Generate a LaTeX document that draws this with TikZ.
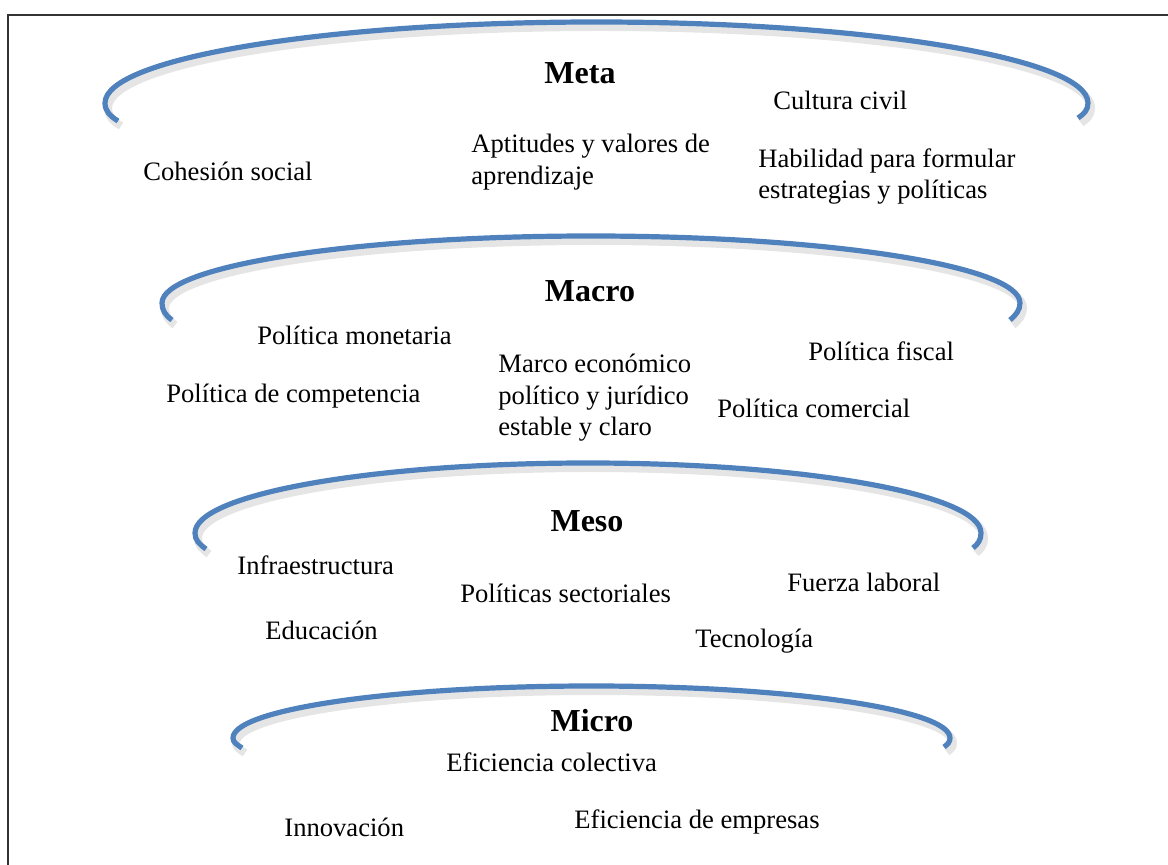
\documentclass[tikz,border=0pt]{standalone}
\usepackage{fontspec}
\setmainfont{Liberation Serif}
\definecolor{arcblue}{HTML}{4F81BD}

\begin{document}
\begin{tikzpicture}[x=0.5pt, y=-0.5pt,
    levelarc/.style={draw=arcblue, line width=2.6pt},
    arcshadow/.style={draw=black, opacity=.10, line width=4pt},
    leveltitle/.style={anchor=base, inner sep=0pt, font=\fontsize{16}{19}\selectfont\bfseries},
    factor/.style={anchor=base west, inner sep=0pt, font=\fontsize{13.3}{15.6}\selectfont},
    factorlines/.style={anchor=north west, inner sep=0pt, align=left, font=\fontsize{13.3}{15.6}\selectfont}]
    \useasboundingbox (0,0) rectangle (1168,865);
    \clip (0,0) rectangle (1168,865);
    % frame
    \draw[black!80, line width=0.8pt] (8,880) |- (1180,15);

    % meta
    \draw[arcshadow, shift={(3,5)}] (118,121) .. controls (110,116) and (105,111) .. (105,103)
        arc[start angle=180, end angle=360, x radius=491.5, y radius=81]
        .. controls (1088,110) and (1084,114) .. (1078,118);
    \draw[levelarc] (118,121) .. controls (110,116) and (105,111) .. (105,103)
        arc[start angle=180, end angle=360, x radius=491.5, y radius=81]
        .. controls (1088,110) and (1084,114) .. (1078,118);
    \node[leveltitle] (meta) at (580,84) {Meta};
    \node[factor] (cultura) at (773,110) {Cultura civil};
    \node[factor] (cohesion) at (143,181) {Cohesión social};
    \node[factorlines] (aptitudes) at (471,134) {Aptitudes y valores de\\aprendizaje};
    \node[factorlines] (habilidad) at (758,148) {Habilidad para formular\\estrategias y políticas};

    % macro
    \draw[arcshadow, shift={(3,5)}] (172,320) .. controls (165,315) and (162,310) .. (162,303)
        arc[start angle=180, end angle=360, x radius=429, y radius=67]
        .. controls (1020,310) and (1016,315) .. (1010,320);
    \draw[levelarc] (172,320) .. controls (165,315) and (162,310) .. (162,303)
        arc[start angle=180, end angle=360, x radius=429, y radius=67]
        .. controls (1020,310) and (1016,315) .. (1010,320);
    \node[leveltitle] (macro) at (590,302) {Macro};
    \node[factor] (monetaria) at (257,345) {Política monetaria};
    \node[factor] (competencia) at (166,403) {Política de competencia};
    \node[factorlines] (marco) at (498,354) {Marco económico\\político y jurídico\\estable y claro};
    \node[factor] (fiscal) at (808,361) {Política fiscal};
    \node[factor] (comercial) at (717,418) {Política comercial};

    % meso
    \draw[arcshadow, shift={(3,5)}] (206,549) .. controls (199,544) and (195,540) .. (195,533)
        arc[start angle=180, end angle=360, x radius=393, y radius=70]
        .. controls (981,540) and (978,544) .. (973,548);
    \draw[levelarc] (206,549) .. controls (199,544) and (195,540) .. (195,533)
        arc[start angle=180, end angle=360, x radius=393, y radius=70]
        .. controls (981,540) and (978,544) .. (973,548);
    \node[leveltitle] (meso) at (587,532) {Meso};
    \node[factor] (infra) at (237,575) {Infraestructura};
    \node[factor] (sectoriales) at (460,603) {Políticas sectoriales};
    \node[factor] (educacion) at (265,640) {Educación};
    \node[factor] (fuerza) at (787,592) {Fuerza laboral};
    \node[factor] (tecnologia) at (695,648) {Tecnología};

    % micro
    \draw[arcshadow, shift={(3,5)}] (242,748) .. controls (236,744) and (233,742) .. (233,738)
        arc[start angle=180, end angle=360, x radius=358.5, y radius=52]
        .. controls (950,742) and (948,744) .. (944,747);
    \draw[levelarc] (242,748) .. controls (236,744) and (233,742) .. (233,738)
        arc[start angle=180, end angle=360, x radius=358.5, y radius=52]
        .. controls (950,742) and (948,744) .. (944,747);
    \node[leveltitle] (micro) at (592,732) {Micro};
    \node[factor] (colectiva) at (446,771) {Eficiencia colectiva};
    \node[factor] (innovacion) at (284,836) {Innovación};
    \node[factor] (empresas) at (574,828) {Eficiencia de empresas};
\end{tikzpicture}
\end{document}
